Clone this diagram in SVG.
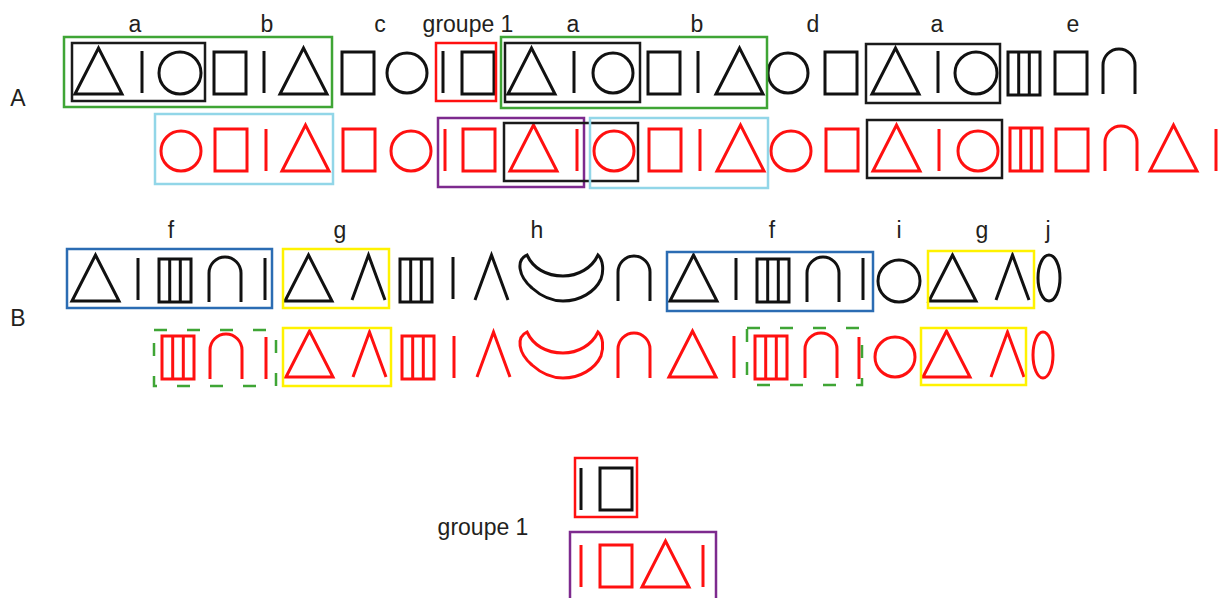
<svg xmlns="http://www.w3.org/2000/svg" xmlns:xlink="http://www.w3.org/1999/xlink" width="1218" height="598" viewBox="0 0 1218 598">
<style>
.k{stroke:#111}
.r{stroke:#ff1010}
.gl{fill:none;stroke-width:3;stroke-linejoin:miter}
.bx{fill:none;stroke-width:2.5}
.bk{stroke:#1a1a1a}
.gr{stroke:#3fa535}
.lb{stroke:#92d6e8}
.pu{stroke:#7d2a8e}
.bl{stroke:#2b6cb3}
.ye{stroke:#fff200}
.rb{stroke:#ff1010}
.ds{stroke-dasharray:13 20}
.lbl{font-family:"Liberation Sans",Arial,sans-serif;font-size:23px;fill:#231f20;text-anchor:middle}
</style>
<defs>
<g id="tri"><path d="M0,46 L23.5,0 L47,46 Z"/></g>
<g id="bar"><line x1="0" y1="0" x2="0" y2="42"/></g>
<g id="sq"><rect x="0" y="0" width="32" height="42"/></g>
<g id="st"><rect x="0" y="0" width="32" height="43"/><line x1="10.7" y1="0" x2="10.7" y2="43"/><line x1="21.3" y1="0" x2="21.3" y2="43"/></g>
<g id="arch"><path d="M0,45 V16 A16,16 0 0 1 32,16 V45"/></g>
<g id="lam"><path d="M0,45 L16.5,0 L33,45"/></g>
<g id="ban"><path d="M7,1 C-4,6 -2,22 12,34 C22,43 33,47 43,47 C60,47 75,38 81,25 C84,16 83,6 78,1 C72,14 58,22 43,22 C26,22 13,14 7,1 Z"/></g>
</defs>
<rect width="1218" height="598" fill="#fff"/>

<g id="labels">
<text class="lbl" x="18" y="106">A</text>
<text class="lbl" x="18" y="326">B</text>
<text class="lbl" x="135" y="32">a</text>
<text class="lbl" x="267" y="32">b</text>
<text class="lbl" x="380" y="32">c</text>
<text class="lbl" x="468" y="32">groupe 1</text>
<text class="lbl" x="573" y="32">a</text>
<text class="lbl" x="697" y="32">b</text>
<text class="lbl" x="813" y="32">d</text>
<text class="lbl" x="937" y="32">a</text>
<text class="lbl" x="1073" y="32">e</text>
<text class="lbl" x="171" y="238">f</text>
<text class="lbl" x="340" y="238">g</text>
<text class="lbl" x="537" y="238">h</text>
<text class="lbl" x="772" y="238">f</text>
<text class="lbl" x="899" y="238">i</text>
<text class="lbl" x="982" y="238">g</text>
<text class="lbl" x="1048" y="238">j</text>
<text class="lbl" x="483" y="535">groupe 1</text>
</g>

<g id="rowA-top" class="gl k">
<use href="#tri" x="75" y="48"/><use href="#tri" x="280" y="48"/><use href="#tri" x="508" y="48"/><use href="#tri" x="716" y="48"/><use href="#tri" x="872" y="48"/>
<use href="#bar" x="142" y="51"/><use href="#bar" x="264" y="51"/><use href="#bar" x="443" y="51"/><use href="#bar" x="574" y="51"/><use href="#bar" x="698" y="51"/><use href="#bar" x="938" y="51"/>
<circle cx="180" cy="73" r="21"/><circle cx="407" cy="73" r="20"/><circle cx="613" cy="73" r="20"/><circle cx="788" cy="73" r="20"/><circle cx="976" cy="73" r="21"/>
<use href="#sq" x="214" y="52"/><use href="#sq" x="342" y="52"/><use href="#sq" x="462" y="52"/><use href="#sq" x="648" y="52"/><use href="#sq" x="825" y="52"/><use href="#sq" x="1055" y="52"/>
<use href="#st" x="1008" y="52"/>
<use href="#arch" x="1103" y="49"/>
</g>
<g id="rowA-top-boxes" class="bx">
<rect class="gr" x="64" y="37" width="268" height="70"/>
<rect class="bk" x="72" y="43" width="133" height="58"/>
<rect class="rb" x="436" y="43" width="60" height="58"/>
<rect class="gr" x="501" y="37" width="266" height="71"/>
<rect class="bk" x="505" y="43" width="135" height="59"/>
<rect class="bk" x="866" y="44" width="134" height="59"/>
</g>

<g id="rowA-bottom" class="gl r">
<use href="#tri" x="282" y="125"/><use href="#tri" x="510" y="125"/><use href="#tri" x="717" y="125"/><use href="#tri" x="873" y="125"/><use href="#tri" x="1150" y="125"/>
<use href="#bar" x="266" y="129"/><use href="#bar" x="445" y="129"/><use href="#bar" x="577" y="129"/><use href="#bar" x="700" y="129"/><use href="#bar" x="939" y="129"/><use href="#bar" x="1216" y="129"/>
<circle cx="181" cy="151" r="20"/><circle cx="411" cy="151" r="20"/><circle cx="614" cy="151" r="20"/><circle cx="791" cy="151" r="20"/><circle cx="978" cy="151" r="20"/>
<use href="#sq" x="215" y="129"/><use href="#sq" x="343" y="129"/><use href="#sq" x="463" y="129"/><use href="#sq" x="649" y="129"/><use href="#sq" x="826" y="129"/><use href="#sq" x="1056" y="129"/>
<use href="#st" x="1010" y="128"/>
<use href="#arch" x="1105" y="126"/>
</g>
<g id="rowA-bottom-boxes" class="bx">
<rect class="lb" x="155" y="114" width="178" height="70"/>
<rect class="pu" x="438" y="118" width="146" height="69"/>
<rect class="bk" x="504" y="123" width="134" height="58"/>
<rect class="lb" x="590" y="118" width="178" height="70"/>
<rect class="bk" x="867" y="120" width="135" height="58"/>
</g>

<g id="rowB-top" class="gl k">
<use href="#tri" x="72" y="255"/><use href="#tri" x="285" y="255"/><use href="#tri" x="670" y="255"/><use href="#tri" x="929" y="255"/>
<use href="#bar" x="138" y="258"/><use href="#bar" x="265" y="258"/><use href="#bar" x="453" y="257"/><use href="#bar" x="736" y="258"/><use href="#bar" x="863" y="258"/>
<use href="#st" x="159" y="259"/><use href="#st" x="400" y="259"/><use href="#st" x="757" y="259"/>
<use href="#arch" x="209" y="257"/><use href="#arch" x="618" y="256"/><use href="#arch" x="807" y="257"/>
<use href="#lam" x="352" y="255"/><use href="#lam" x="475" y="255"/><use href="#lam" x="996" y="255"/>
<use href="#ban" x="520" y="254"/>
<circle cx="899" cy="281" r="21"/>
<ellipse cx="1049" cy="278" rx="11" ry="23"/>
</g>
<g id="rowB-top-boxes" class="bx">
<rect class="bl" x="67" y="249" width="205" height="59"/>
<rect class="ye" x="283" y="249" width="106" height="59"/>
<rect class="bl" x="667" y="252" width="206" height="59"/>
<rect class="ye" x="928" y="251" width="106" height="57"/>
</g>

<g id="rowB-bottom" class="gl r">
<use href="#st" x="162" y="336"/><use href="#st" x="402" y="336"/><use href="#st" x="755" y="336"/>
<use href="#arch" x="210" y="334"/><use href="#arch" x="618" y="333"/><use href="#arch" x="805" y="333"/>
<use href="#bar" x="266" y="337"/><use href="#bar" x="454" y="336"/><use href="#bar" x="734" y="336"/><use href="#bar" x="859" y="337"/>
<use href="#tri" x="286" y="331"/><use href="#tri" x="669" y="331"/><use href="#tri" x="923" y="331"/>
<use href="#lam" x="353" y="332"/><use href="#lam" x="477" y="332"/><use href="#lam" x="991" y="332"/>
<use href="#ban" x="520" y="331"/>
<circle cx="895" cy="357" r="20"/>
<ellipse cx="1043" cy="355" rx="10" ry="23"/>
</g>
<g id="rowB-bottom-boxes" class="bx">
<rect class="gr ds" x="154" y="330" width="122" height="56"/>
<rect class="ye" x="283" y="328" width="108" height="58"/>
<rect class="gr ds" x="747" y="328" width="115" height="57"/>
<rect class="ye" x="921" y="328" width="105" height="57"/>
</g>

<g id="groupe1-legend">
<g class="gl k"><use href="#bar" x="581" y="468"/><use href="#sq" x="600" y="468"/></g>
<rect class="bx rb" x="575" y="458" width="62" height="59"/>
<g class="gl r"><use href="#bar" x="581" y="545"/><use href="#sq" x="600" y="545"/><use href="#tri" x="642" y="541"/><use href="#bar" x="703" y="545"/></g>
<rect class="bx pu" x="570" y="532" width="146" height="70"/>
</g>
<g id="connectors"/>
</svg>
